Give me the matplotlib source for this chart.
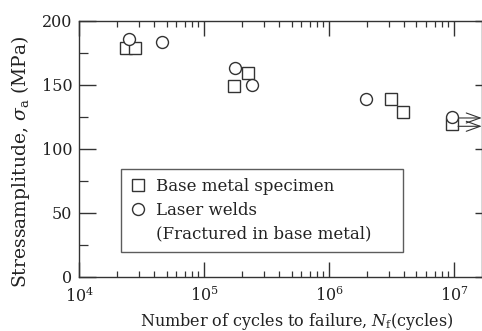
import matplotlib
matplotlib.use("Agg")
import matplotlib.pyplot as plt
from matplotlib.lines import Line2D
from matplotlib.ticker import LogLocator, MultipleLocator, NullFormatter
import numpy as np

plt.rcParams['font.family'] = ['DejaVu Serif']
plt.rcParams['mathtext.fontset'] = 'dejavuserif'

# base metal specimen (squares)
base_N = [23800, 27900, 174000, 224000, 3.13e6, 3.88e6, 9.7e6]
base_S = [179, 179, 149, 159, 139, 129, 119]
# laser welds, fractured in base metal (circles)
weld_N = [25100, 45900, 178000, 241000, 1.99e6, 9.7e6]
weld_S = [186, 183, 163, 150, 139, 125]
# run-outs (arrows)
runout_N = [9.7e6, 9.7e6]
runout_S = [124, 117.5]

xticks = [1e4, 1e5, 1e6, 1e7]
xticklabels = [r'$10^4$', r'$10^5$', r'$10^6$', r'$10^7$']
legend_labels = ['Base metal specimen', 'Laser welds', '(Fractured in base metal)']

ec = '#333333'

fig = plt.figure(figsize=(4.82, 3.31), dpi=100)
ax = fig.add_axes([0.1645, 0.164, 0.8355, 0.7735])

ax.plot(base_N, base_S, 's', ms=9, mfc='white', mec=ec, mew=1.0, ls='none', zorder=3)
ax.plot(weld_N, weld_S, 'o', ms=8.6, mfc='white', mec=ec, mew=1.0, ls='none', zorder=4)
for n, s in zip(runout_N, runout_S):
    ax.annotate('', xy=(n * 1.72, s), xytext=(n * 1.11, s), annotation_clip=False,
                arrowprops=dict(arrowstyle='->,head_length=1.0,head_width=0.36',
                                color=ec, lw=0.8, shrinkA=0, shrinkB=0))

ax.set_xscale('log')
ax.set_xlim(1e4, 1.675e7)
ax.set_ylim(0, 200)
ax.set_xticks(xticks)
ax.set_xticklabels(xticklabels)
ax.xaxis.set_minor_locator(LogLocator(base=10, subs=np.arange(2, 10)))
ax.xaxis.set_minor_formatter(NullFormatter())
ax.yaxis.set_major_locator(MultipleLocator(50))
ax.yaxis.set_minor_locator(MultipleLocator(25))

ax.tick_params(axis='x', which='both', direction='in', top=True, labelsize=11.5, pad=7,
               color=ec, labelcolor='#222222')
ax.tick_params(axis='x', which='major', length=11, width=1.0)
ax.tick_params(axis='x', which='minor', length=4.5, width=0.9)
ax.tick_params(axis='y', which='both', direction='in', labelsize=11.5, pad=5,
               color=ec, labelcolor='#222222')
ax.tick_params(axis='y', which='major', length=12, width=1.0, right=True)
ax.tick_params(axis='y', which='minor', length=6.5, width=0.9, right=False)
for t in ax.yaxis.get_major_ticks():
    t.tick2line.set_markersize(5)
for sp in ax.spines.values():
    sp.set_color(ec)
    sp.set_linewidth(1.0)

ax.set_xlabel(r'Number of cycles to failure, $N_{\rm f}$(cycles)', fontsize=11.5, color='#222222')
ax.xaxis.set_label_coords(0.539, -0.135)
ax.set_ylabel(r'Stressamplitude, $\sigma_{\rm a}$ (MPa)', fontsize=13.5, color='#222222')
ax.yaxis.set_label_coords(-0.118, 0.448)

handles = [
    Line2D([], [], marker='s', ls='none', ms=9, mfc='white', mec=ec, mew=1.0),
    Line2D([], [], marker='o', ls='none', ms=8.6, mfc='white', mec=ec, mew=1.0),
    Line2D([], [], ls='none'),
]
leg = ax.legend(handles, legend_labels, loc='lower left', mode='expand',
                bbox_to_anchor=(0.103, 0.098, 0.70, 0.34), fontsize=12,
                frameon=True, fancybox=False, handlelength=1.0, handletextpad=0.55,
                labelspacing=0.4, borderpad=0.55, borderaxespad=0)
leg.get_frame().set_edgecolor(ec)
leg.get_frame().set_linewidth(1.0)
for t in leg.get_texts():
    t.set_color('#222222')

fig.savefig('out.png', dpi=100)
